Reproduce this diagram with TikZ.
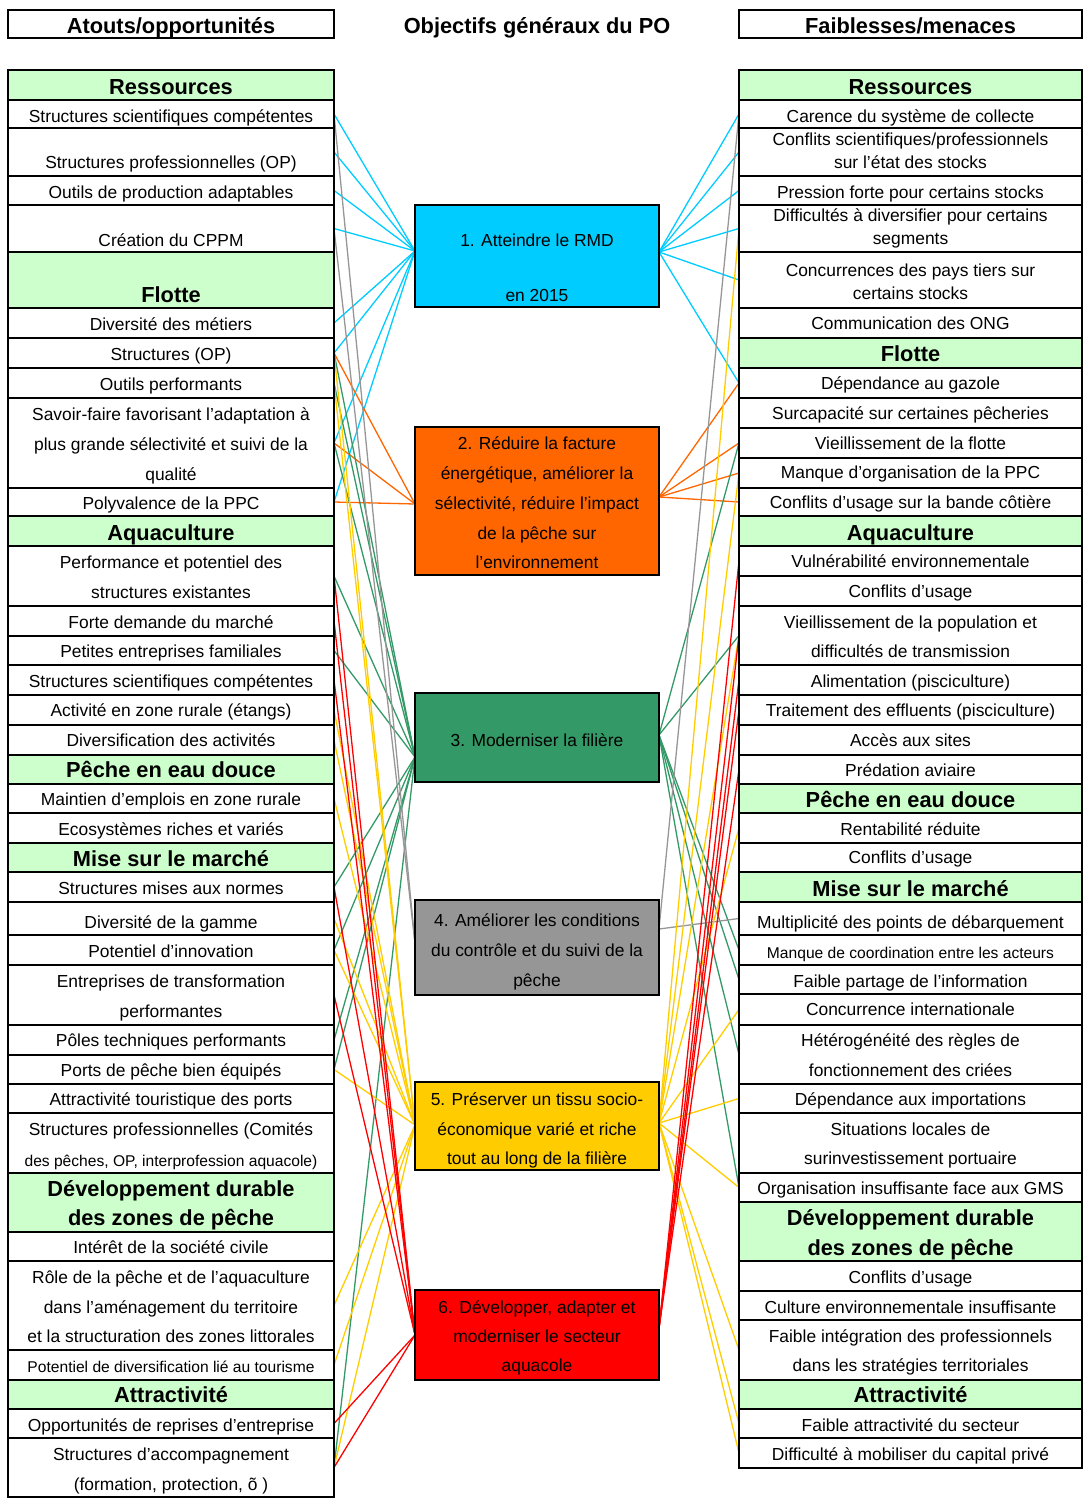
\documentclass[tikz,border=0pt]{standalone}
\usepackage{fontspec}
\setmainfont{Liberation Sans}[Ligatures=ResetAll]
\usetikzlibrary{backgrounds,calc}
\definecolor{hdr}{HTML}{CCFFCC}
\definecolor{ccyan}{HTML}{00CCFF}
\definecolor{corange}{HTML}{FF6600}
\definecolor{cgreen}{HTML}{339966}
\definecolor{cgrey}{HTML}{969696}
\definecolor{cyellow}{HTML}{FFCC00}
\definecolor{cred}{HTML}{FF0000}
\newcommand\cellbox[6]{\node[cell,fill=#6,minimum width=#5pt,minimum height={#3-#2}] (#1) at (#4,{(#2+#3)/2}) {};}
\newcommand\Lc[3]{\cellbox{#1}{#2}{#3}{171}{326}{white}}
\newcommand\Lh[3]{\cellbox{#1}{#2}{#3}{171}{326}{hdr}}
\newcommand\Rc[3]{\cellbox{#1}{#2}{#3}{910.5}{343}{white}}
\newcommand\Rh[3]{\cellbox{#1}{#2}{#3}{910.5}{343}{hdr}}
\newcommand\Lt[4][t]{\node[#1] (#2) at (171,#3) {#4};}
\newcommand\Rt[4][t]{\node[#1] (#2) at (910.5,#3) {#4};}
\newcommand\Ot[3]{\node[t] (#1) at (537,#2) {#3};}
\begin{document}
\begin{tikzpicture}[x=1pt,y=-1pt,
 cell/.style={draw=black, line width=1.5pt, inner sep=0, outer sep=0},
 obj/.style={draw=black, line width=2.4pt, inner sep=0, outer sep=0, minimum width=244pt},
 t/.style={font=\fontsize{17.4}{20}\selectfont, inner sep=0, text height=14.5pt, text depth=1.6pt},
 ts/.style={font=\fontsize{15.6}{18}\selectfont, inner sep=0, text height=13.2pt, text depth=1.2pt},
 th/.style={font=\bfseries\fontsize{21.8}{24}\selectfont, inner sep=0, text height=17.7pt, text depth=2.5pt},
 con/.style={line width=1.3pt},
]
\useasboundingbox (0,0) rectangle (1087,1504);

% top headers
\node[cell,line width=2pt,minimum width=326pt,minimum height=28pt] (HA) at (171,24) {};
\node[th] (HAt) at (171,26) {Atouts/opportunités};
\node[th] (HO) at (537,26) {Objectifs généraux du PO};
\node[cell,line width=2pt,minimum width=343pt,minimum height=28pt] (HF) at (910.5,24) {};
\node[th] (HFt) at (910.5,26) {Faiblesses/menaces};

% left column cells
\Lh{LH1}{70}{100}
\Lc{L1}{100}{128}
\Lc{L2}{128}{176}
\Lc{L3}{176}{205}
\Lc{L4}{205}{252}
\Lh{LH2}{252}{308}
\Lc{L5}{308}{338}
\Lc{L6}{338}{368}
\Lc{L7}{368}{398}
\Lc{L8}{398}{488}
\Lc{L9}{488}{516}
\Lh{LH3}{516}{546}
\Lc{L10}{546}{606}
\Lc{L11}{606}{636}
\Lc{L12}{636}{665}
\Lc{L13}{665}{695}
\Lc{L14}{695}{725}
\Lc{L15}{725}{755}
\Lh{LH4}{755}{784}
\Lc{L16}{784}{813}
\Lc{L17}{813}{843}
\Lh{LH5}{843}{872}
\Lc{L18}{872}{902}
\Lc{L19}{902}{935}
\Lc{L20}{935}{965}
\Lc{L21}{965}{1025}
\Lc{L22}{1025}{1055}
\Lc{L23}{1055}{1084}
\Lc{L24}{1084}{1113}
\Lc{L25}{1113}{1173}
\Lh{LH6}{1173}{1232}
\Lc{L26}{1232}{1261}
\Lc{L27}{1261}{1350}
\Lc{L28}{1350}{1380}
\Lh{LH7}{1380}{1409}
\Lc{L29}{1409}{1438}
\Lc{L30}{1438}{1497}
\draw[line width=2.6pt] (LH1.north west) rectangle (L30.south east);

% left texts
\Lt[th]{LH1t}{87}{Ressources}
\Lt{L1t}{116}{Structures scientifiques compétentes}
\Lt{L2t}{162}{Structures professionnelles (OP)}
\Lt{L3t}{192}{Outils de production adaptables}
\Lt{L4t}{240}{Création du CPPM}
\Lt[th]{LH2t}{295}{Flotte}
\Lt{L5t}{324}{Diversité des métiers}
\Lt{L6t}{354}{Structures (OP)}
\Lt{L7t}{384}{Outils performants}
\Lt{L8a}{414}{Savoir-faire favorisant l'adaptation à}
\Lt{L8b}{444}{plus grande sélectivité et suivi de la}
\Lt{L8c}{474}{qualité}
\Lt{L9t}{503}{Polyvalence de la PPC}
\Lt[th]{LH3t}{533}{Aquaculture}
\Lt{L10a}{562}{Performance et potentiel des}
\Lt{L10b}{592}{structures existantes}
\Lt{L11t}{622}{Forte demande du marché}
\Lt{L12t}{651}{Petites entreprises familiales}
\Lt{L13t}{681}{Structures scientifiques compétentes}
\Lt{L14t}{710}{Activité en zone rurale (étangs)}
\Lt{L15t}{740}{Diversification des activités}
\Lt[th]{LH4t}{770}{Pêche en eau douce}
\Lt{L16t}{799}{Maintien d'emplois en zone rurale}
\Lt{L17t}{829}{Ecosystèmes riches et variés}
\Lt[th]{LH5t}{859}{Mise sur le marché}
\Lt{L18t}{888}{Structures mises aux normes}
\Lt{L19t}{922}{Diversité de la gamme}
\Lt{L20t}{951}{Potentiel d'innovation}
\Lt{L21a}{981}{Entreprises de transformation}
\Lt{L21b}{1011}{performantes}
\Lt{L22t}{1040}{Pôles techniques performants}
\Lt{L23t}{1070}{Ports de pêche bien équipés}
\Lt{L24t}{1099}{Attractivité touristique des ports}
\Lt{L25a}{1129}{Structures professionnelles (Comités}
\Lt[ts]{L25b}{1160}{des pêches, OP, interprofession aquacole)}
\Lt[th]{LH6a}{1189}{Développement durable}
\Lt[th]{LH6b}{1218}{des zones de pêche}
\Lt{L26t}{1247}{Intérêt de la société civile}
\Lt{L27a}{1277}{Rôle de la pêche et de l'aquaculture}
\Lt{L27b}{1307}{dans l'aménagement du territoire}
\Lt{L27c}{1336}{et la structuration des zones littorales}
\Lt[ts]{L28t}{1366}{Potentiel de diversification lié au tourisme}
\Lt[th]{LH7t}{1395}{Attractivité}
\Lt{L29t}{1425}{Opportunités de reprises d'entreprise}
\Lt{L30a}{1454}{Structures d'accompagnement}
\Lt{L30b}{1484}{(formation, protection, õ )}

% right column cells
\Rh{RH1}{70}{100}
\Rc{R1}{100}{128}
\Rc{R2}{128}{176}
\Rc{R3}{176}{205}
\Rc{R4}{205}{252}
\Rc{R5}{252}{308}
\Rc{R6}{308}{338}
\Rh{RH2}{338}{368}
\Rc{R7}{368}{398}
\Rc{R8}{398}{428}
\Rc{R9}{428}{458}
\Rc{R10}{458}{488}
\Rc{R11}{488}{516}
\Rh{RH3}{516}{546}
\Rc{R12}{546}{576}
\Rc{R13}{576}{606}
\Rc{R14}{606}{665}
\Rc{R15}{665}{695}
\Rc{R16}{695}{725}
\Rc{R17}{725}{755}
\Rc{R18}{755}{784}
\Rh{RH4}{784}{813}
\Rc{R19}{813}{843}
\Rc{R20}{843}{872}
\Rh{RH5}{872}{902}
\Rc{R21}{902}{935}
\Rc{R22}{935}{965}
\Rc{R23}{965}{994}
\Rc{R24}{994}{1025}
\Rc{R25}{1025}{1084}
\Rc{R26}{1084}{1113}
\Rc{R27}{1113}{1173}
\Rc{R28}{1173}{1202}
\Rh{RH6}{1202}{1261}
\Rc{R29}{1261}{1291}
\Rc{R30}{1291}{1320}
\Rc{R31}{1320}{1380}
\Rh{RH7}{1380}{1409}
\Rc{R32}{1409}{1438}
\Rc{R33}{1438}{1468}
\draw[line width=2.6pt] (RH1.north west) rectangle (R33.south east);

% right texts
\Rt[th]{RH1t}{87}{Ressources}
\Rt{R1t}{116}{Carence du système de collecte}
\Rt{R2a}{139}{Conflits scientifiques/professionnels}
\Rt{R2b}{162}{sur l'état des stocks}
\Rt{R3t}{192}{Pression forte pour certains stocks}
\Rt{R4a}{215}{Difficultés à diversifier pour certains}
\Rt{R4b}{238}{segments}
\Rt{R5a}{270}{Concurrences des pays tiers sur}
\Rt{R5b}{293}{certains stocks}
\Rt{R6t}{323}{Communication des ONG}
\Rt[th]{RH2t}{354}{Flotte}
\Rt{R7t}{383}{Dépendance au gazole}
\Rt{R8t}{413}{Surcapacité sur certaines pêcheries}
\Rt{R9t}{443}{Vieillissement de la flotte}
\Rt{R10t}{472}{Manque d'organisation de la PPC}
\Rt{R11t}{502}{Conflits d'usage sur la bande côtière}
\Rt[th]{RH3t}{533}{Aquaculture}
\Rt{R12t}{561}{Vulnérabilité environnementale}
\Rt{R13t}{591}{Conflits d'usage}
\Rt{R14a}{622}{Vieillissement de la population et}
\Rt{R14b}{651}{difficultés de transmission}
\Rt{R15t}{681}{Alimentation (pisciculture)}
\Rt{R16t}{710}{Traitement des effluents (pisciculture)}
\Rt{R17t}{740}{Accès aux sites}
\Rt{R18t}{770}{Prédation aviaire}
\Rt[th]{RH4t}{800}{Pêche en eau douce}
\Rt{R19t}{829}{Rentabilité réduite}
\Rt{R20t}{857}{Conflits d'usage}
\Rt[th]{RH5t}{889}{Mise sur le marché}
\Rt{R21t}{922}{Multiplicité des points de débarquement}
\Rt[ts]{R22t}{952}{Manque de coordination entre les acteurs}
\Rt{R23t}{981}{Faible partage de l'information}
\Rt{R24t}{1009}{Concurrence internationale}
\Rt{R25a}{1040}{Hétérogénéité des règles de}
\Rt{R25b}{1070}{fonctionnement des criées}
\Rt{R26t}{1099}{Dépendance aux importations}
\Rt{R27a}{1129}{Situations locales de}
\Rt{R27b}{1158}{surinvestissement portuaire}
\Rt{R28t}{1188}{Organisation insuffisante face aux GMS}
\Rt[th]{RH6a}{1218}{Développement durable}
\Rt[th]{RH6b}{1248}{des zones de pêche}
\Rt{R29t}{1277}{Conflits d'usage}
\Rt{R30t}{1307}{Culture environnementale insuffisante}
\Rt{R31a}{1336}{Faible intégration des professionnels}
\Rt{R31b}{1365}{dans les stratégies territoriales}
\Rt[th]{RH7t}{1395}{Attractivité}
\Rt{R32t}{1425}{Faible attractivité du secteur}
\Rt{R33t}{1454}{Difficulté à mobiliser du capital privé}

% objective boxes
\node[obj,fill=ccyan,minimum height=102pt] (O1) at (537,256) {};
\node[obj,fill=corange,minimum height=148pt] (O2) at (537,501) {};
\node[obj,fill=cgreen,minimum height=89pt] (O3) at (537,737.5) {};
\node[obj,fill=cgrey,minimum height=95pt] (O4) at (537,947.5) {};
\node[obj,fill=cyellow,minimum height=88pt] (O5) at (537,1126) {};
\node[obj,fill=cred,minimum height=90pt] (O6) at (537,1335) {};
\Ot{O1a}{240}{1. Atteindre le RMD}
\Ot{O1b}{295}{en 2015}
\Ot{O2a}{443}{2. Réduire la facture}
\Ot{O2b}{473}{énergétique, améliorer la}
\Ot{O2c}{503}{sélectivité, réduire l'impact}
\Ot{O2d}{533}{de la pêche sur}
\Ot{O2e}{562}{l'environnement}
\Ot{O3a}{740}{3. Moderniser la filière}
\Ot{O4a}{920}{4. Améliorer les conditions}
\Ot{O4b}{950}{du contrôle et du suivi de la}
\Ot{O4c}{980}{pêche}
\Ot{O5a}{1099}{5. Préserver un tissu socio-}
\Ot{O5b}{1129}{économique varié et riche}
\Ot{O5c}{1158}{tout au long de la filière}
\Ot{O6a}{1307}{6. Développer, adapter et}
\Ot{O6b}{1336}{moderniser le secteur}
\Ot{O6c}{1365}{aquacole}

% convergence points
\coordinate (O1l) at ([yshift=5pt]O1.west);
\coordinate (O1r) at ([yshift=4pt]O1.east);
\coordinate (O2l) at ([yshift=-3pt]O2.west);
\coordinate (O2r) at ([yshift=4pt]O2.east);
\coordinate (O3l) at ([yshift=-19.5pt]O3.west);
\coordinate (O3r) at ([yshift=2.5pt]O3.east);
\coordinate (O4l) at ([yshift=4.5pt]O4.west);
\coordinate (O4r) at ([yshift=18.5pt]O4.east);
\coordinate (O5l) at ([yshift=1pt]O5.west);
\coordinate (O5r) at ([yshift=3pt]O5.east);
\coordinate (O6l) at (O6.west);
\coordinate (O6r) at ([yshift=7pt]O6.east);

\begin{scope}[on background layer]
\foreach \n in {L1,L2,L3,L4,L5,L6,L8,L9} \draw[con,ccyan] (\n.east) -- (O1l);
\foreach \n in {R1,R2,R3,R4,R5,R7} \draw[con,ccyan] (\n.west) -- (O1r);
\foreach \n in {L6,L8,L9} \draw[con,corange] (\n.east) -- (O2l);
\foreach \n in {R7,R9,R10,R11} \draw[con,corange] (\n.west) -- (O2r);
\foreach \n in {L6,L7,L8,L10,L12,L18,L20,L22,L23,L30} \draw[con,cgreen] (\n.east) -- (O3l);
\foreach \n in {R9,R14,R22,R23,R25,R28} \draw[con,cgreen] (\n.west) -- (O3r);
\foreach \n in {L1,L4} \draw[con,cgrey] (\n.east) -- (O4l);
\foreach \n in {R1,R21} \draw[con,cgrey] (\n.west) -- (O4r);
\foreach \n in {L6,L7,L14,L15,L16,L19,L20,L23,L27,L28,L30} \draw[con,cyellow] (\n.east) -- (O5l);
\foreach \n in {R4,R10,R14,R19,R24,R26,R28,R31,R32,R33} \draw[con,cyellow] (\n.west) -- (O5r);
\foreach \n in {L10,L11,L13,L18,L21,L29,L30} \draw[con,cred] (\n.east) -- (O6l);
\foreach \n in {R12,R14,R15,R16,R18} \draw[con,cred] (\n.west) -- (O6r);
\end{scope}
\end{tikzpicture}
\end{document}
